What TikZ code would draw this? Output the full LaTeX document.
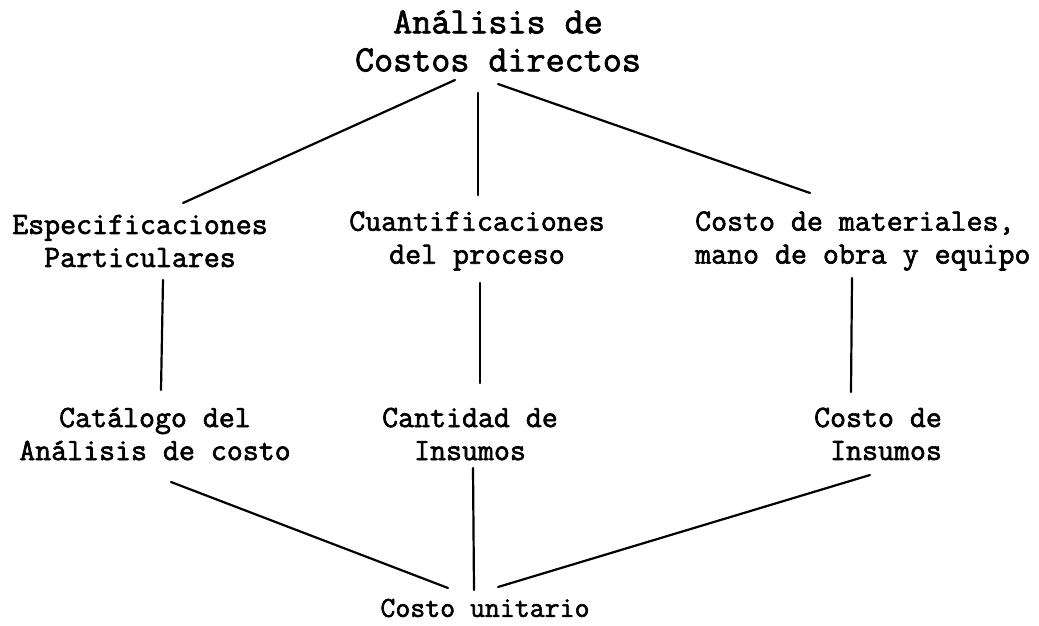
\documentclass[tikz,border=0pt]{standalone}
\usepackage{fontspec}
\setmonofont{Latin Modern Mono}[FakeBold=2]
\usetikzlibrary{calc}
\begin{document}
\begin{tikzpicture}[x=1pt,y=-1pt,
  lbl/.style={inner sep=0pt, font=\ttfamily\fontsize{31}{33}\selectfont, align=center},
  ttl/.style={lbl, font=\ttfamily\fontsize{37}{38}\selectfont},
  conn/.style={line width=2.2pt, line cap=round}]
\useasboundingbox[fill=white] (0,0) rectangle (1039,626);
\node[ttl] (top) at (498,41) {Análisis de\\Costos directos};
\node[lbl] (esp) at (140,241) {Especificaciones\\Particulares};
\node[lbl] (cuan) at (477,241) {Cuantificaciones\\del proceso};
\node[lbl, align=left, anchor=west] (cost) at (695,241) {Costo de materiales,\\mano de obra y equipo};
\node[lbl] (cat) at (155,434) {Catálogo del\\Análisis de costo};
\node[lbl] (cant) at (470,434) {Cantidad de\\Insumos};
\node[lbl] (ci) at (878,434) {Costo de\\\phantom{C}Insumos};
\node[lbl, font=\ttfamily\fontsize{29}{33}\selectfont] (cu) at (485,608) {Costo unitario};
\draw[conn] ($(top.center)+(-43,39)$) -- ($(esp.center)+(43,-38)$);
\draw[conn] ($(top.center)+(-20,52)$) -- ($(cuan.center)+(1,-46)$);
\draw[conn] ($(top.center)+(0,43)$) -- ($(cost.west)+(115,-48)$);
\draw[conn] ($(esp.center)+(23,39)$) -- ($(cat.center)+(6,-44)$);
\draw[conn] ($(cuan.center)+(3,42)$) -- ($(cant.center)+(10,-51)$);
\draw[conn] ($(cost.west)+(157,37)$) -- ($(ci.center)+(-27,-42)$);
\draw[conn] ($(cat.center)+(16,48)$) -- ($(cu.center)+(-37,-20)$);
\draw[conn] ($(cant.center)+(3,34)$) -- ($(cu.center)+(-11,-18)$);
\draw[conn] ($(ci.center)+(-8,41)$) -- ($(cu.center)+(13,-21)$);
\end{tikzpicture}
\end{document}
